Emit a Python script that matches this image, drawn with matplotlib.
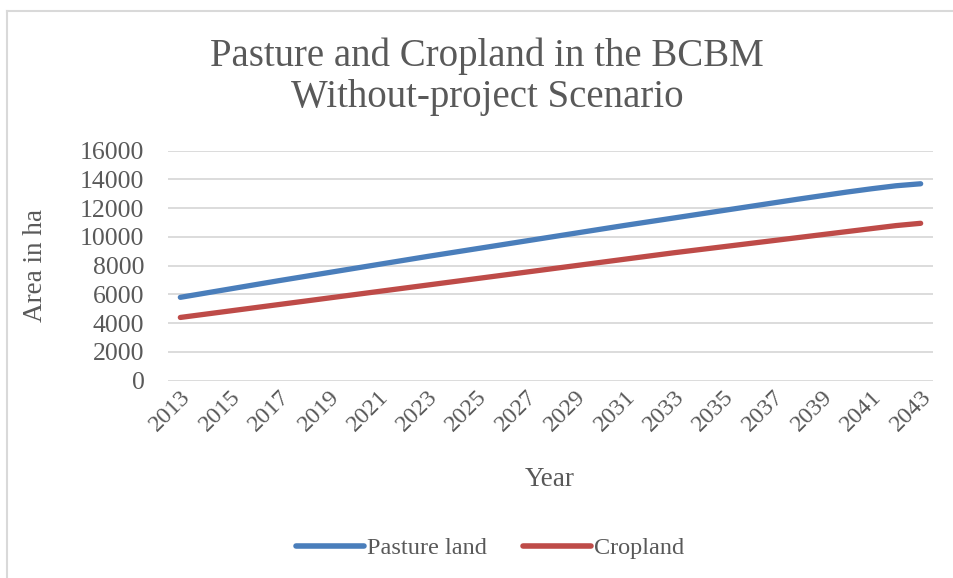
import matplotlib
matplotlib.use("Agg")
import matplotlib.pyplot as plt
from matplotlib.lines import Line2D

years = list(range(2013, 2044))
pasture = [5800, 6090, 6380, 6670, 6960, 7240, 7520, 7800, 8080, 8360,
           8640, 8910, 9180, 9450, 9720, 9990, 10260, 10530, 10800, 11060,
           11320, 11580, 11840, 12100, 12360, 12620, 12870, 13120, 13350, 13560,
           13700]
cropland = [4400, 4625, 4850, 5075, 5300, 5525, 5750, 5975, 6200, 6425,
            6650, 6875, 7100, 7325, 7550, 7775, 8000, 8225, 8450, 8675,
            8900, 9110, 9320, 9530, 9740, 9950, 10160, 10370, 10580, 10790,
            10950]
series_names = ["Pasture land", "Cropland"]
title = "Pasture and Cropland in the BCBM\nWithout-project Scenario"
xlabel = "Year"
ylabel = "Area in ha"
yticks = list(range(0, 16001, 2000))

W, H = 954, 578
fig = plt.figure(figsize=(W / 100, H / 100), dpi=100)
plt.rcParams['font.family'] = ['Liberation Serif', 'DejaVu Serif']
txt = '#595959'
grid = '#d9d9d9'
blue = '#4a7ebb'
red = '#be4b48'

left, right = 168 / W, 933 / W
top, bottom = 1 - 150.7 / H, 1 - 380.7 / H
ax = fig.add_axes([left, bottom, right - left, top - bottom])

idx = list(range(len(years)))
ax.plot(idx, pasture, color=blue, lw=3.8, solid_capstyle='round', label=series_names[0])
ax.plot(idx, cropland, color=red, lw=3.8, solid_capstyle='round', label=series_names[1])

ax.set_xlim(-0.5, len(years) - 0.5)
ax.set_ylim(0, 16000)
ax.set_yticks(yticks)
ax.set_yticklabels([str(v) for v in yticks], fontsize=18.5, color=txt)
ax.set_xticks(idx[::2])
ax.set_xticklabels([str(y) for y in years[::2]], rotation=45, fontsize=17.5,
                   color=txt, ha='right', va='top', rotation_mode='anchor')
ax.tick_params(axis='both', length=0)
ax.tick_params(axis='y', pad=17)
ax.tick_params(axis='x', pad=4)
for y in yticks:
    ax.axhline(y, color=grid, lw=1.3, zorder=0)
for s in ax.spines.values():
    s.set_visible(False)

fig.text(36 / W, 1 - 265 / H, ylabel, rotation=90, fontsize=19.5, color=txt,
         ha='center', va='center')
fig.text(550 / W, 1 - 479 / H, xlabel, fontsize=19.5, color=txt, ha='center', va='center')
fig.text(487 / W, 1 - 77 / H, title, fontsize=28, color=txt, ha='center', va='center',
         linespacing=1.15)

handles = [Line2D([], [], color=blue, lw=4, solid_capstyle='round'),
           Line2D([], [], color=red, lw=4, solid_capstyle='round')]
fig.legend(handles, series_names, loc='center', bbox_to_anchor=(490 / W, 1 - 548 / H),
           ncol=2, frameon=False, fontsize=17.5, labelcolor=txt, handlelength=2.8,
           handletextpad=0.1, columnspacing=1.5)

fig.add_artist(Line2D([7 / W, 7 / W], [0, 1 - 11 / H], color=grid, lw=1.5,
                      transform=fig.transFigure))
fig.add_artist(Line2D([7 / W, 1], [1 - 11 / H, 1 - 11 / H], color=grid, lw=1.5,
                      transform=fig.transFigure))

fig.savefig("out.png", dpi=100)
